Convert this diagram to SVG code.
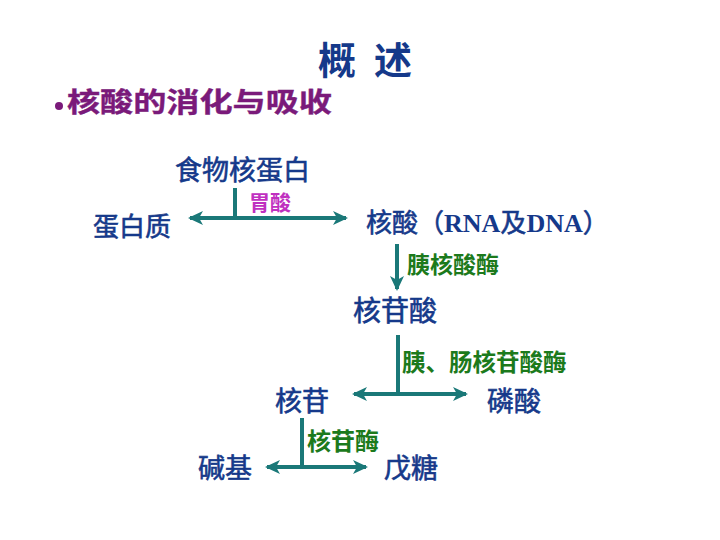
<svg xmlns="http://www.w3.org/2000/svg" width="720" height="540" viewBox="0 0 720 540">
<style>
.cjk{font-family:"Noto Sans CJK SC","Liberation Sans",sans-serif}
.blue{fill:#15398a;stroke:#15398a;stroke-width:0.6}
.green{fill:#1c7a1c;font-weight:bold}
.mag{fill:#c030c0;font-weight:bold}
.purple{fill:#7a1a7a;font-weight:bold;stroke:#7a1a7a;stroke-width:0.4}
.ln{stroke:#1a7878;stroke-width:4;fill:none}
.ser{font-family:"Liberation Serif",serif;font-weight:bold;stroke-width:0}
</style>
<defs>
<marker id="ah" markerUnits="userSpaceOnUse" markerWidth="16" markerHeight="16" viewBox="0 0 16 16" refX="13" refY="8" orient="auto-start-reverse">
<path d="M0,1 L15,8 L0,15 L4,8 z" fill="#1a7878"/>
</marker>
</defs>
<rect width="720" height="540" fill="#ffffff"/>
<g id="title" class="cjk" font-weight="bold" fill="#15398a" font-size="38">
<text x="318" y="74">概</text>
<text x="374" y="74">述</text>
</g>
<g id="subtitle">
<circle cx="59" cy="106" r="4" fill="#7a1a7a"/>
<text class="cjk purple" x="67" y="112" font-size="27" textLength="265" lengthAdjust="spacingAndGlyphs">核酸的消化与吸收</text>
</g>
<g id="connectors">
<line class="ln" x1="235" y1="188" x2="235" y2="218"/>
<line class="ln" x1="190" y1="218" x2="346" y2="218" marker-start="url(#ah)" marker-end="url(#ah)"/>
<line class="ln" x1="397" y1="244" x2="397" y2="289" marker-end="url(#ah)"/>
<line class="ln" x1="398" y1="335" x2="398" y2="394"/>
<line class="ln" x1="354" y1="394" x2="466" y2="394" marker-start="url(#ah)" marker-end="url(#ah)"/>
<line class="ln" x1="302" y1="418" x2="302" y2="467"/>
<line class="ln" x1="267" y1="467" x2="366" y2="467" marker-start="url(#ah)" marker-end="url(#ah)"/>
</g>
<g id="n_food"><text class="cjk blue" x="175" y="180" font-size="27">食物核蛋白</text></g>
<g id="l_acid"><text class="cjk mag" x="249" y="210" font-size="21">胃酸</text></g>
<g id="n_protein"><text class="cjk blue" x="93" y="236" font-size="26">蛋白质</text></g>
<g id="n_nucleic"><text class="cjk blue" x="366" y="232" font-size="26">核酸（<tspan class="ser">RNA</tspan>及<tspan class="ser">DNA</tspan>）</text></g>
<g id="l_pancreas"><text class="cjk green" x="407" y="273" font-size="23">胰核酸酶</text></g>
<g id="n_nucleotide"><text class="cjk blue" x="353" y="321" font-size="28">核苷酸</text></g>
<g id="l_nucleotidase"><text class="cjk green" x="402" y="371" font-size="23.5">胰、肠核苷酸酶</text></g>
<g id="n_nucleoside"><text class="cjk blue" x="275" y="411" font-size="27">核苷</text></g>
<g id="n_phosphate"><text class="cjk blue" x="487" y="411" font-size="27">磷酸</text></g>
<g id="l_nucleosidase"><text class="cjk green" x="307" y="450" font-size="24">核苷酶</text></g>
<g id="n_base"><text class="cjk blue" x="198" y="478" font-size="27">碱基</text></g>
<g id="n_pentose"><text class="cjk blue" x="384" y="478" font-size="27">戊糖</text></g>
</svg>
